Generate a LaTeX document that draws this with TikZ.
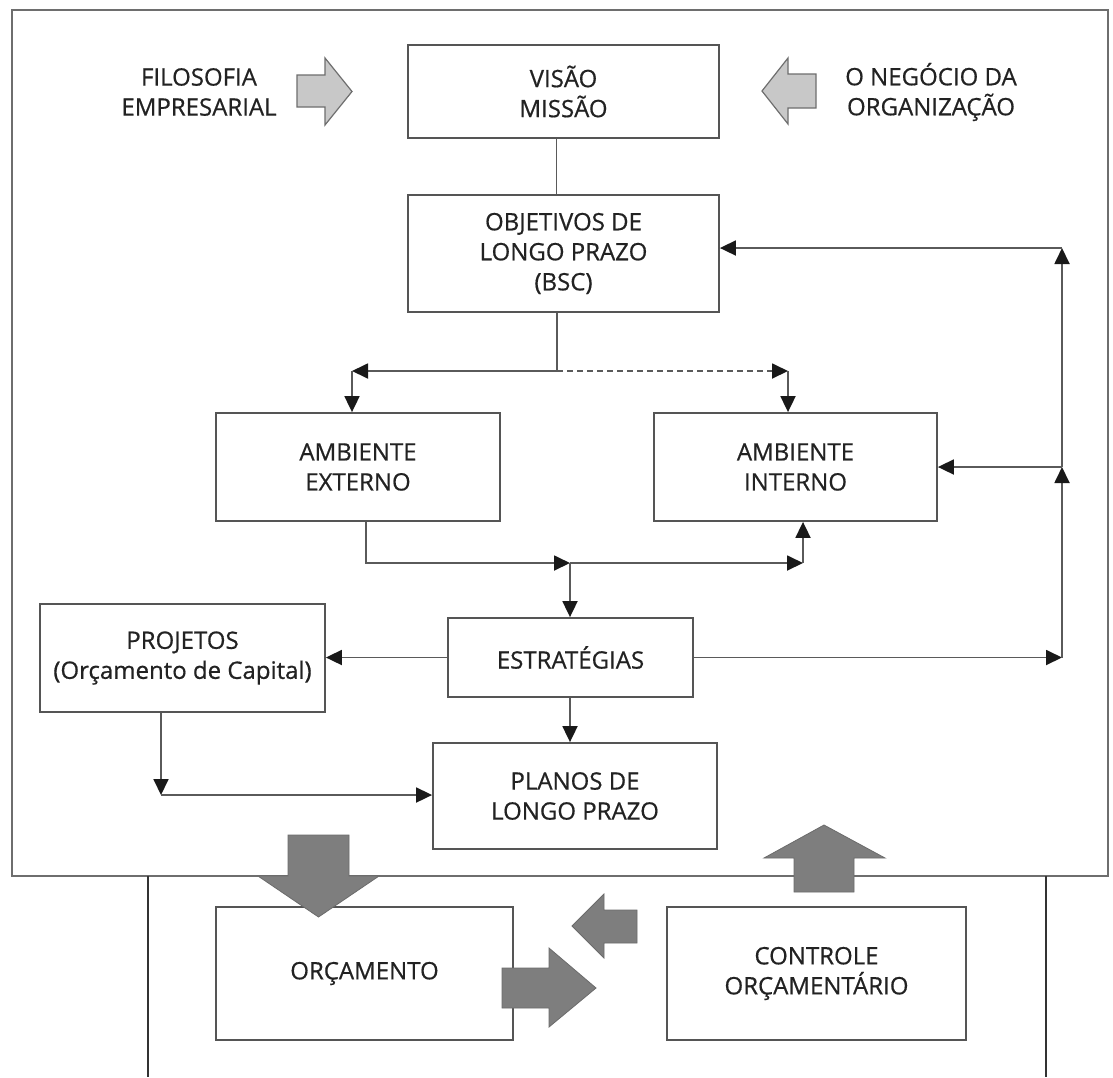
\documentclass[tikz,border=0pt]{standalone}
\usepackage{fontspec}
\setmainfont{Open Sans}
\newfontfamily\diagfont{Open Sans}[FakeBold=0.6]
\usetikzlibrary{arrows.meta}
\definecolor{framegray}{HTML}{6E6E6E}
\definecolor{boxgray}{HTML}{555555}
\definecolor{linegray}{HTML}{5A5A5A}
\definecolor{lightfill}{HTML}{C8C8C8}
\definecolor{darkfill}{HTML}{7E7E7E}
\definecolor{inkgray}{HTML}{222222}
\tikzset{
  box/.style={draw=boxgray, line width=1.8pt, fill=white, align=center,
    text=inkgray, font=\diagfont\fontsize{24}{30}\selectfont, inner sep=0pt},
  label/.style={align=center, text=inkgray, font=\diagfont\fontsize{24}{30}\selectfont, inner sep=0pt},
  conn/.style={draw=linegray, line width=1.8pt},
  arr/.style={conn, -{Triangle[length=16pt, width=15pt, color=black!90]}},
  lightarrow/.style={fill=lightfill, draw=framegray, line width=1.2pt, line join=miter},
  darkarrow/.style={fill=darkfill, draw=darkfill!85!black, line width=0.8pt, line join=miter},
}
\begin{document}
\begin{tikzpicture}[x=1pt, y=-1pt]
\useasboundingbox (0,0) rectangle (1113,1077);
\fill[white] (0,0) rectangle (1113,1077);

% outer frames
\draw[framegray, line width=2pt] (12,10) rectangle (1108,876);
\draw[black!80, line width=1.4pt] (148,876) -- (148,1077);
\draw[black!80, line width=1.4pt] (1046,876) -- (1046,1077);

% boxes
\node[box, minimum width=311pt, minimum height=93pt] (vis) at (563.5,91.5) {VISÃO\\MISSÃO};
\node[box, minimum width=311pt, minimum height=117pt] (obj) at (563.5,253.5) {OBJETIVOS DE\\LONGO PRAZO\\(BSC)};
\node[box, minimum width=284pt, minimum height=108pt] (ext) at (358,467) {AMBIENTE\\EXTERNO};
\node[box, minimum width=283pt, minimum height=108pt] (int) at (795.5,467) {AMBIENTE\\INTERNO};
\node[box, minimum width=245pt, minimum height=79pt] (estr) at (570.5,657.5) {ESTRATÉGIAS};
\node[box, minimum width=285pt, minimum height=108pt] (proj) at (182.5,658) {PROJETOS\\(Orçamento de Capital)};
\node[box, minimum width=284pt, minimum height=106pt] (plan) at (575,796) {PLANOS DE\\LONGO PRAZO};
\node[box, minimum width=297pt, minimum height=133pt] (orc) at (364.5,973.5) {ORÇAMENTO};
\node[box, minimum width=299pt, minimum height=133pt] (ctrl) at (816.5,973.5) {CONTROLE\\ORÇAMENTÁRIO};

% side labels
\node[label] (filo) at (199,92) {FILOSOFIA\\EMPRESARIAL};
\node[label] (neg) at (931,92) {O NEGÓCIO DA\\ORGANIZAÇÃO};

% routing points
\coordinate (spine) at (556.5,0);
\coordinate (split) at (557,371);
\coordinate (extin) at (352,371);
\coordinate (intin) at (788,371);
\coordinate (extout) at (366,0);
\coordinate (jn) at (570,563);
\coordinate (intup) at (803,563);
\coordinate (pj) at (161,795);
\coordinate (fbA) at (1062,657.5);
\coordinate (fbB) at (1062,467);
\coordinate (fbC) at (1062,248);

% connectors
\draw[conn] (vis.south -| spine) -- (obj.north -| spine);
\draw[conn] (obj.south -| split) -- (split);
\draw[arr] (split) -- (extin);
\draw[arr] (extin) -- (ext.north -| extin);
\draw[arr, dashed, dash pattern=on 6pt off 4pt] (split) -- (intin);
\draw[arr] (intin) -- (int.north -| intin);
\draw[arr] (ext.south -| extout) |- (jn);
\draw[arr] (jn) -- (intup);
\draw[arr] (intup) -- (int.south -| intup);
\draw[arr] (jn) -- (estr.north -| jn);
\draw[arr] (estr.west) -- (proj.east |- estr.west);
\draw[arr] (proj.south -| pj) -- (pj);
\draw[arr] (pj) -- (plan.west |- pj);
\draw[arr] (estr.south -| jn) -- (plan.north -| jn);
\draw[arr] (estr.east) -- (fbA);
\draw[arr] (fbA) -- (fbB);
\draw[arr] (fbB) -- (int.east);
\draw[arr] (fbB) -- (fbC);
\draw[arr] (fbC) -- (obj.east |- fbC);

% block arrows into the mission box
\draw[lightarrow] (297,75) -- (325,75) -- (325,58) -- (352,91.5) -- (325,125) -- (325,107) -- (297,107) -- cycle;
\draw[lightarrow] (816,74) -- (788,74) -- (788,58) -- (762,91) -- (788,124) -- (788,108) -- (816,108) -- cycle;

% block arrows of the budget cycle
\draw[darkarrow] (288,835) -- (349,835) -- (349,876) -- (379,876) -- (318.5,917) -- (258,876) -- (288,876) -- cycle;
\draw[darkarrow] (794,892) -- (794,858) -- (764,858) -- (824,825) -- (885,858) -- (854,858) -- (854,892) -- cycle;
\draw[darkarrow] (502,968) -- (549,968) -- (549,948) -- (596,988) -- (549,1027) -- (549,1008) -- (502,1008) -- cycle;
\draw[darkarrow] (637,910) -- (604,910) -- (604,894) -- (572,926) -- (604,958) -- (604,943) -- (637,943) -- cycle;
\end{tikzpicture}
\end{document}
